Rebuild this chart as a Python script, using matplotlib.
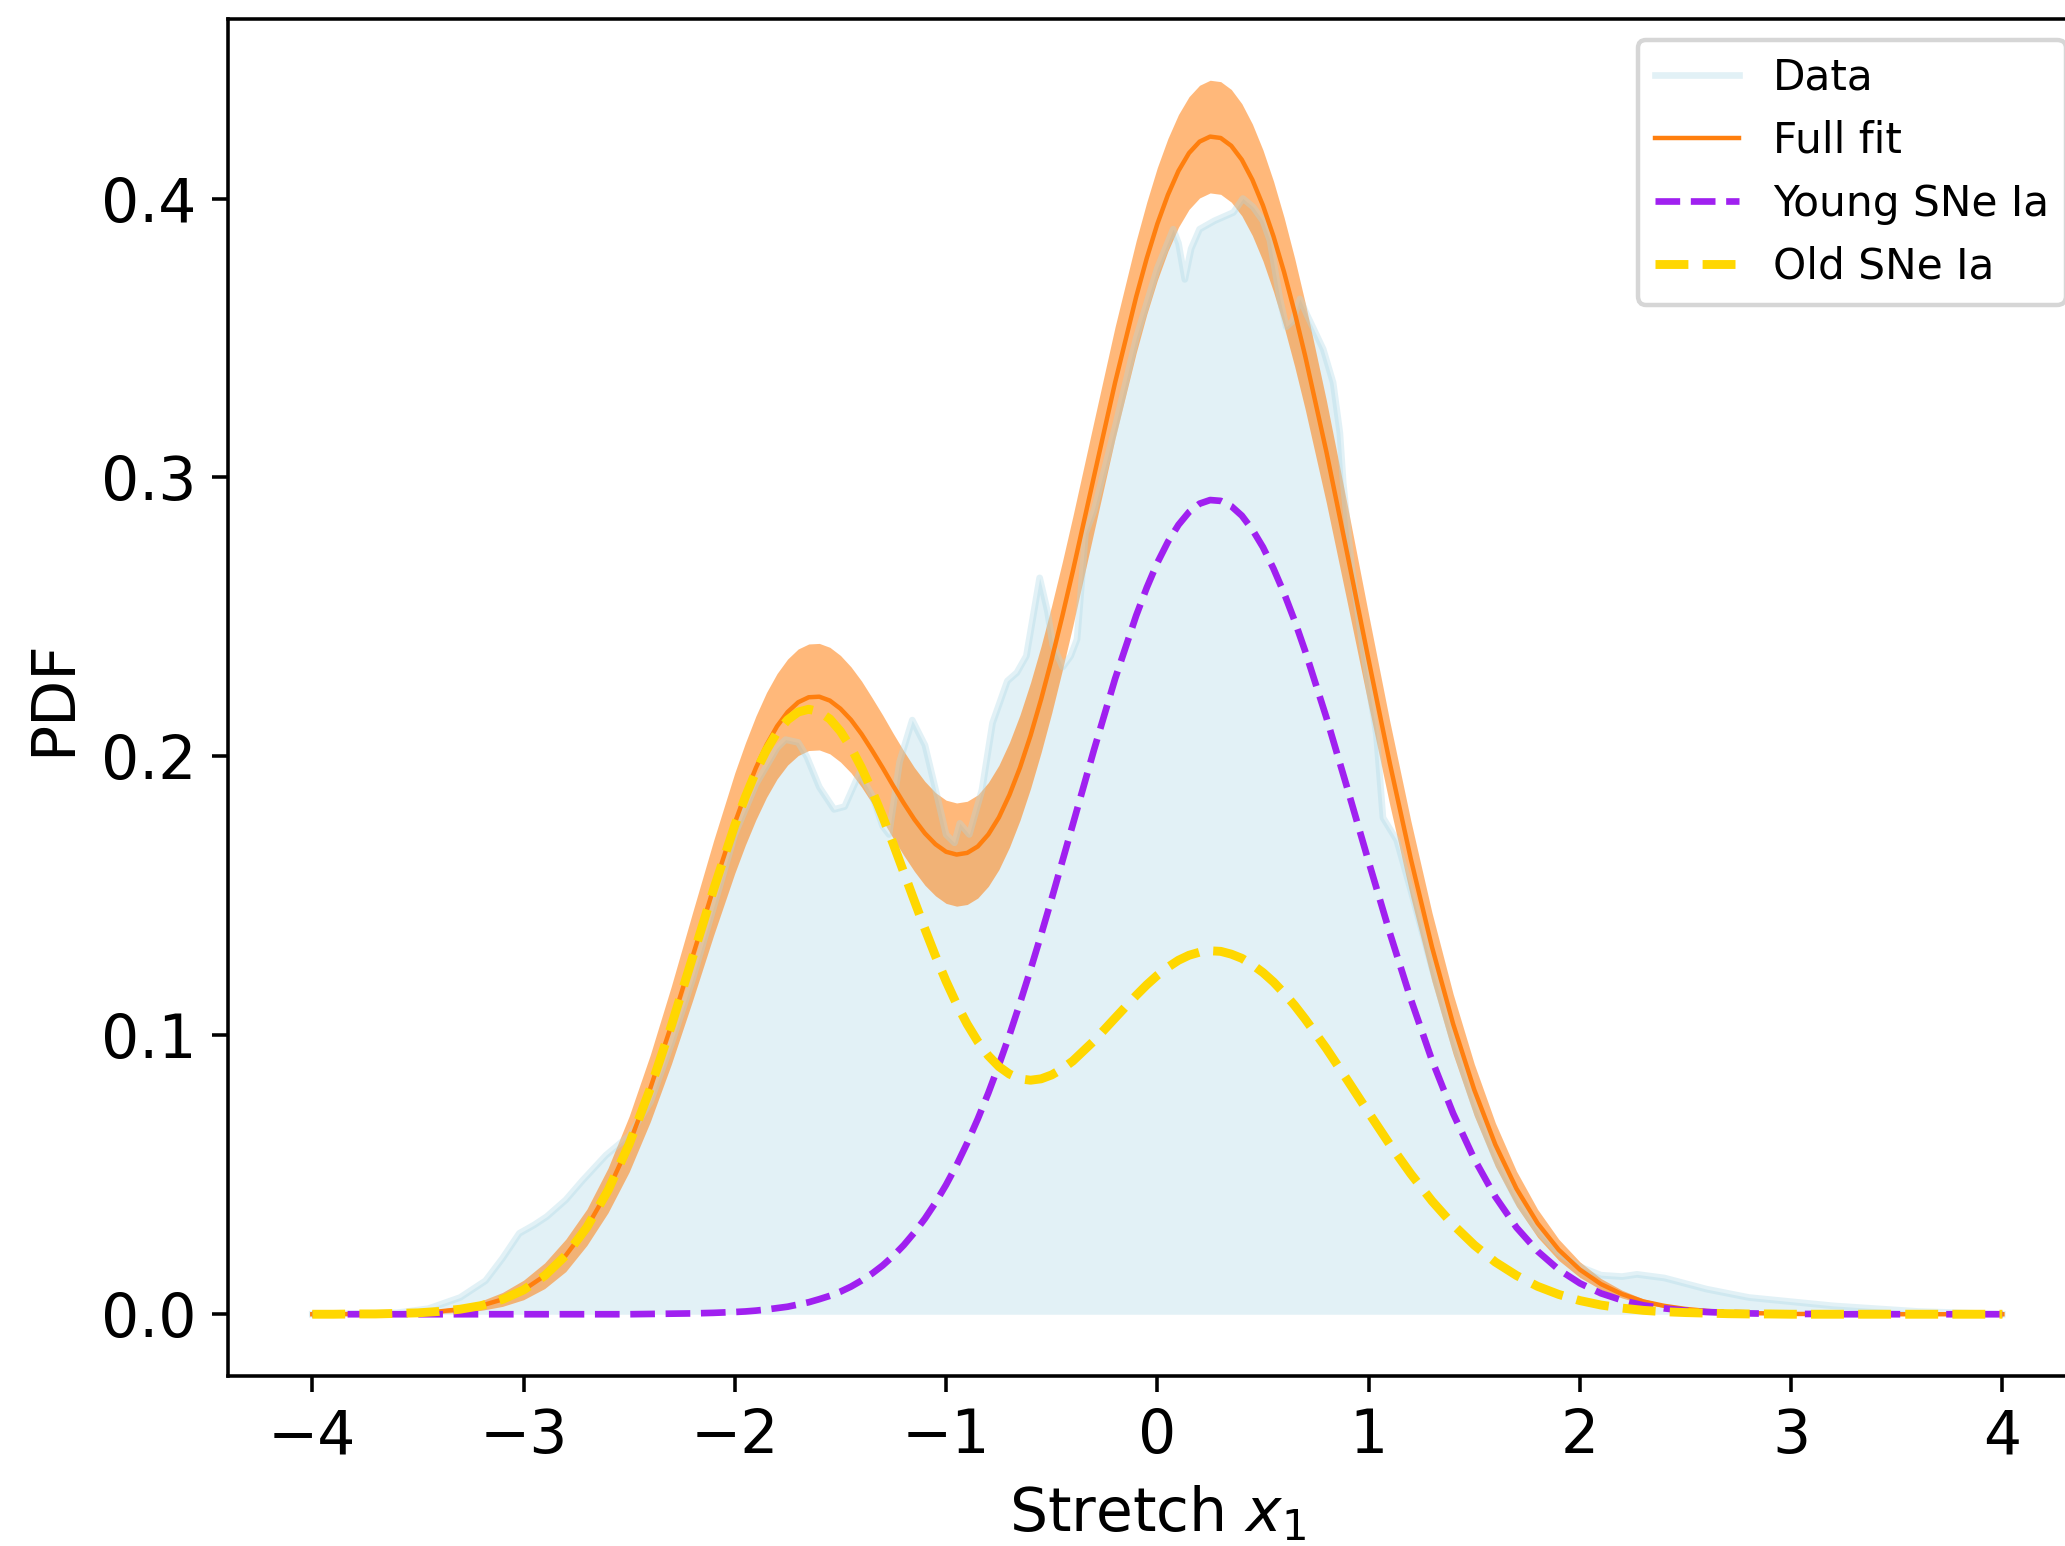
import numpy as np
import matplotlib
matplotlib.use("Agg")
import matplotlib.pyplot as plt

# model curves: stretch grid (finer around the peaks and the dip)
x_fit = [-4.0, -3.9, -3.8, -3.7, -3.6, -3.5, -3.4, -3.3, -3.2, -3.1,
         -3.0, -2.9, -2.8, -2.7, -2.6, -2.5, -2.4, -2.3, -2.2, -2.1,
         -2.0, -1.95, -1.9, -1.85, -1.8, -1.75, -1.7, -1.65, -1.6, -1.55,
         -1.5, -1.45, -1.4, -1.35, -1.3, -1.25, -1.2, -1.15, -1.1, -1.05,
         -1.0, -0.95, -0.9, -0.85, -0.8, -0.75, -0.7, -0.65, -0.6, -0.55,
         -0.5, -0.45, -0.4, -0.3, -0.2, -0.1, -0.05,
         0.0, 0.05, 0.1, 0.15, 0.2, 0.25, 0.3, 0.35, 0.4, 0.45,
         0.5, 0.55, 0.6, 0.65, 0.7, 0.8, 0.9,
         1.0, 1.1, 1.2, 1.3, 1.4, 1.5, 1.6, 1.7, 1.8, 1.9,
         2.0, 2.1, 2.2, 2.3, 2.4, 2.5, 2.6, 2.7, 2.8, 2.9,
         3.0, 3.1, 3.2, 3.3, 3.4, 3.5, 3.6, 3.7, 3.8, 3.9, 4.0]

full_fit = [0.0000, 0.0000, 0.0001, 0.0001, 0.0003, 0.0005, 0.0010, 0.0018, 0.0031, 0.0053,
            0.0087, 0.0138, 0.0211, 0.0312, 0.0444, 0.0610, 0.0810, 0.1037, 0.1282, 0.1529,
            0.1761, 0.1865, 0.1959, 0.2041, 0.2108, 0.2159, 0.2194, 0.2212, 0.2214, 0.2200,
            0.2171, 0.2131, 0.2080, 0.2021, 0.1959, 0.1894, 0.1832, 0.1774, 0.1724, 0.1685,
            0.1658, 0.1648, 0.1654, 0.1677, 0.1720, 0.1781, 0.1862, 0.1960, 0.2075, 0.2205,
            0.2348, 0.2502, 0.2664, 0.3003, 0.3340, 0.3648, 0.3786,
            0.3909, 0.4013, 0.4099, 0.4163, 0.4204, 0.4222, 0.4217, 0.4189, 0.4139, 0.4067,
            0.3975, 0.3864, 0.3736, 0.3592, 0.3435, 0.3093, 0.2723,
            0.2346, 0.1977, 0.1632, 0.1317, 0.1041, 0.0805, 0.0608, 0.0450, 0.0326, 0.0231,
            0.0160, 0.0108, 0.0072, 0.0046, 0.0030, 0.0019, 0.0012, 0.0007, 0.0004, 0.0003,
            0.0001, 0.0001, 0, 0, 0, 0, 0, 0, 0, 0, 0]

full_err = [0.0000, 0.0000, 0.0001, 0.0001, 0.0002, 0.0004, 0.0007, 0.0011, 0.0017, 0.0025,
            0.0035, 0.0046, 0.0058, 0.0065, 0.0080, 0.0100, 0.0120, 0.0140, 0.0158, 0.0170,
            0.0180, 0.0183, 0.0186, 0.0188, 0.0189, 0.0190, 0.0191, 0.0191, 0.0191, 0.0191,
            0.0191, 0.0190, 0.0190, 0.0189, 0.0189, 0.0188, 0.0187, 0.0186, 0.0186, 0.0185,
            0.0185, 0.0185, 0.0185, 0.0185, 0.0186, 0.0187, 0.0188, 0.0189, 0.0190, 0.0191,
            0.0193, 0.0194, 0.0196, 0.0198, 0.0200, 0.0201, 0.0201,
            0.0202, 0.0202, 0.0202, 0.0202, 0.0202, 0.0202, 0.0202, 0.0202, 0.0201, 0.0200,
            0.0199, 0.0198, 0.0196, 0.0194, 0.0191, 0.0184, 0.0175,
            0.0163, 0.0150, 0.0137, 0.0123, 0.0108, 0.0093, 0.0078, 0.0063, 0.0050, 0.0038,
            0.0028, 0.0020, 0.0014, 0.0009, 0.0006, 0.0004, 0.0002, 0.0001, 0.0001, 0.0000,
            0, 0, 0, 0, 0, 0, 0, 0, 0, 0, 0]

young = [0, 0, 0, 0, 0, 0, 0, 0, 0, 0,
         0, 0, 0, 0, 0, 0.0000, 0.0001, 0.0002, 0.0003, 0.0005,
         0.0008, 0.0010, 0.0013, 0.0017, 0.0022, 0.0027, 0.0035, 0.0043, 0.0054, 0.0066,
         0.0081, 0.0099, 0.0121, 0.0146, 0.0175, 0.0209, 0.0248, 0.0293, 0.0343, 0.0400,
         0.0464, 0.0535, 0.0614, 0.0700, 0.0793, 0.0894, 0.1001, 0.1116, 0.1236, 0.1361,
         0.1490, 0.1623, 0.1756, 0.2023, 0.2278, 0.2505, 0.2605,
         0.2694, 0.2769, 0.2830, 0.2876, 0.2906, 0.2919, 0.2916, 0.2897, 0.2863, 0.2813,
         0.2750, 0.2673, 0.2585, 0.2486, 0.2377, 0.2140, 0.1884,
         0.1623, 0.1368, 0.1129, 0.0911, 0.0720, 0.0557, 0.0421, 0.0311, 0.0226, 0.0160,
         0.0111, 0.0075, 0.0050, 0.0032, 0.0021, 0.0013, 0.0008, 0.0005, 0.0003, 0.0002,
         0.0001, 0.0001, 0, 0, 0, 0, 0, 0, 0, 0, 0]

old = [0.0000, 0.0000, 0.0001, 0.0001, 0.0003, 0.0005, 0.0010, 0.0018, 0.0031, 0.0053,
       0.0087, 0.0138, 0.0211, 0.0312, 0.0444, 0.0610, 0.0809, 0.1035, 0.1279, 0.1524,
       0.1753, 0.1855, 0.1946, 0.2023, 0.2086, 0.2131, 0.2159, 0.2169, 0.2160, 0.2134,
       0.2090, 0.2031, 0.1959, 0.1876, 0.1784, 0.1686, 0.1584, 0.1482, 0.1381, 0.1284,
       0.1194, 0.1112, 0.1040, 0.0978, 0.0927, 0.0888, 0.0861, 0.0844, 0.0839, 0.0844,
       0.0858, 0.0880, 0.0908, 0.0980, 0.1062, 0.1143, 0.1181,
       0.1215, 0.1244, 0.1269, 0.1287, 0.1298, 0.1303, 0.1301, 0.1291, 0.1276, 0.1253,
       0.1225, 0.1191, 0.1151, 0.1107, 0.1058, 0.0953, 0.0839,
       0.0723, 0.0609, 0.0503, 0.0406, 0.0321, 0.0248, 0.0187, 0.0139, 0.0100, 0.0071,
       0.0049, 0.0033, 0.0022, 0.0014, 0.0009, 0.0006, 0.0004, 0.0002, 0.0001, 0.0001,
       0, 0, 0, 0, 0, 0, 0, 0, 0, 0, 0]

# observed stretch distribution
data_x = [-4.0, -3.6, -3.45, -3.3, -3.18, -3.1, -3.02, -2.95, -2.89, -2.8,
          -2.72, -2.61, -2.5, -2.4, -2.3, -2.2, -2.1, -2.0, -1.9, -1.8,
          -1.76, -1.7, -1.66, -1.6, -1.53, -1.48, -1.41, -1.35, -1.3, -1.27,
          -1.22, -1.16, -1.1, -1.04, -1.0, -0.96, -0.935, -0.89, -0.83, -0.78,
          -0.71, -0.665, -0.62, -0.557, -0.52, -0.495, -0.448, -0.41, -0.38, -0.34,
          -0.3, -0.2, -0.1, 0.0, 0.075, 0.1, 0.13, 0.16, 0.2, 0.27,
          0.36, 0.405, 0.453, 0.5, 0.533, 0.58, 0.61, 0.64, 0.675, 0.71,
          0.785, 0.832, 0.864, 0.88, 0.92, 0.974, 1.037, 1.068, 1.133, 1.2,
          1.3, 1.4, 1.5, 1.6, 1.7, 1.8, 1.9, 2.0, 2.1, 2.2,
          2.27, 2.4, 2.5, 2.6, 2.8, 3.0, 3.2, 3.4, 3.6, 3.8, 4.0]
data_y = [0.0, 0.0005, 0.002, 0.006, 0.012, 0.020, 0.029, 0.032, 0.035, 0.041,
          0.048, 0.057, 0.064, 0.076, 0.097, 0.120, 0.146, 0.172, 0.190, 0.203,
          0.206, 0.205, 0.200, 0.189, 0.181, 0.182, 0.194, 0.186, 0.175, 0.172,
          0.198, 0.213, 0.204, 0.185, 0.172, 0.169, 0.176, 0.172, 0.188, 0.212,
          0.227, 0.230, 0.236, 0.264, 0.252, 0.240, 0.232, 0.236, 0.242, 0.280,
          0.288, 0.318, 0.350, 0.375, 0.389, 0.384, 0.371, 0.382, 0.389, 0.392,
          0.395, 0.400, 0.397, 0.392, 0.385, 0.364, 0.354, 0.356, 0.364, 0.358,
          0.346, 0.334, 0.316, 0.298, 0.268, 0.238, 0.208, 0.178, 0.170, 0.152,
          0.124, 0.098, 0.075, 0.056, 0.041, 0.030, 0.022, 0.017, 0.014, 0.0135,
          0.0143, 0.013, 0.011, 0.009, 0.006, 0.0045, 0.003, 0.002, 0.001, 0.0005, 0.0]

full_fit = np.array(full_fit)
full_err = np.array(full_err)

dpi = 320
fig = plt.figure(figsize=(2065 / dpi, 1546 / dpi), dpi=dpi)
# the axes runs slightly past the right edge of the figure, as in the original
ax = fig.add_axes([0.1103, 0.110, 0.9003, 0.878])

ax.plot(data_x, data_y, color="lightblue", alpha=0.35, lw=1.5, label="Data")
ax.fill_between(data_x, 0, data_y, color="lightblue", alpha=0.35, lw=0)

ax.fill_between(x_fit, full_fit - full_err, full_fit + full_err,
                color="C1", alpha=0.55, lw=0)
ax.plot(x_fit, full_fit, color="C1", lw=1, label="Full fit")
ax.plot(x_fit, young, "--", color="#a020f0", lw=1.5, label="Young SNe Ia")
ax.plot(x_fit, old, "--", color="gold", lw=2, label="Old SNe Ia")

ax.set_xticks([-4, -3, -2, -1, 0, 1, 2, 3, 4])
ax.set_yticks([0.0, 0.1, 0.2, 0.3, 0.4])
ax.tick_params(labelsize=13.5)
ax.set_xlabel("Stretch $x_1$", fontsize=13.5)
ax.set_ylabel("PDF", fontsize=13.5)
ax.legend(loc="upper right", fontsize=9.5)

fig.savefig("out.png", dpi=dpi)
